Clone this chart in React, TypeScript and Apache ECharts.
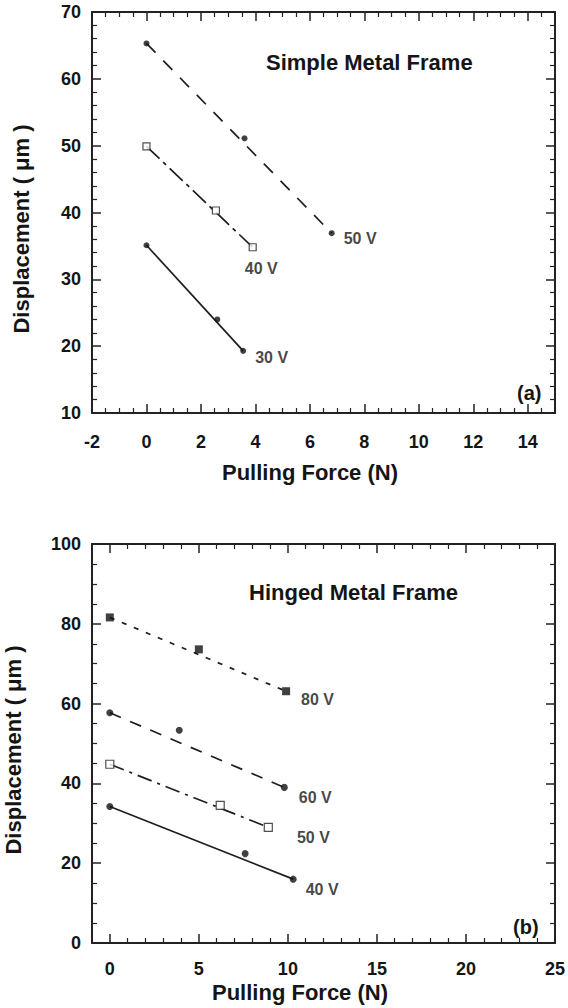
import React, { useEffect, useRef } from 'react';
import * as echarts from 'echarts';

const FONT = '"Liberation Sans", Arial, Helvetica, sans-serif';
const INK = '#151515';

// ---- Panel (a): Simple Metal Frame ----
const topXTicks = [-2, 0, 2, 4, 6, 8, 10, 12, 14];
const topYTicks = [10, 20, 30, 40, 50, 60, 70];
const topV50 = [[0, 65.3], [3.6, 51.1], [6.8, 36.9]];
const topV40 = [[0, 49.9], [2.55, 40.3], [3.9, 34.8]];
const topV30 = [[0, 35.1], [2.6, 24.0], [3.55, 19.3]];
const topLabels = ['50 V', '40 V', '30 V'];

// ---- Panel (b): Hinged Metal Frame ----
const botXTicks = [0, 5, 10, 15, 20, 25];
const botYTicks = [0, 20, 40, 60, 80, 100];
const botV80 = [[0, 81.6], [5.0, 73.6], [9.9, 63.1]];
const botV60 = [[0, 57.7], [3.9, 53.3], [9.8, 39.0]];
const botV50 = [[0, 44.8], [6.2, 34.5], [8.9, 29.0]];
const botV40 = [[0, 34.2], [7.6, 22.4], [10.3, 16.0]];
const botLabels = ['80 V', '60 V', '50 V', '40 V'];

const titleA = 'Simple Metal Frame';
const titleB = 'Hinged Metal Frame';
const xTitle = 'Pulling Force (N)';
const yTitle = 'Displacement ( \u03bcm )';

const axisLine = { show: true, onZero: false, lineStyle: { color: '#222', width: 2 } };
const tick = { show: true, inside: true, length: 9, lineStyle: { color: '#222', width: 1.5 } };
const minor = (n: number) => ({ show: true, splitNumber: n, length: 5, lineStyle: { color: '#222', width: 1.2 } });
const labelStyle = { fontFamily: FONT, fontWeight: 'bold' as const, fontSize: 18, color: INK };

function lineSeries(pts: number[][], grid: number, dash: number[] | 'solid') {
  const ends = [pts[0], pts[pts.length - 1]];
  return {
    type: 'line',
    xAxisIndex: grid * 2,
    yAxisIndex: grid * 2,
    data: ends,
    symbol: 'none',
    lineStyle: { color: '#1e1e1e', width: 1.7, type: dash },
    silent: true,
    z: 2,
  };
}

function pointSeries(
  pts: number[][],
  grid: number,
  symbol: string,
  size: number,
  filled: boolean,
  label: string,
  offset: number[],
) {
  return {
    type: 'scatter',
    xAxisIndex: grid * 2,
    yAxisIndex: grid * 2,
    symbol,
    symbolSize: size,
    itemStyle: filled
      ? { color: '#111' }
      : { color: '#fff', borderColor: '#222', borderWidth: 1.2 },
    data: pts.map((p, i) =>
      i === pts.length - 1
        ? {
            value: p,
            label: {
              show: true,
              formatter: label,
              position: 'right',
              distance: 0,
              offset,
              fontFamily: FONT,
              fontWeight: 'bold',
              fontSize: 16,
              color: INK,
            },
          }
        : p,
    ),
    z: 3,
  };
}

export default function App() {
  const ref = useRef<HTMLDivElement>(null);
  useEffect(() => {
    if (!ref.current) return;
    const chart = echarts.init(ref.current, undefined, { renderer: 'svg' });
    const option: any = {
      animation: false,
      backgroundColor: '#fff',
      grid: [
        { left: 92, top: 12, width: 463, height: 401 },
        { left: 92, top: 544, width: 463, height: 399 },
      ],
      xAxis: [
        {
          gridIndex: 0, type: 'value', position: 'bottom',
          min: topXTicks[0], max: 15, interval: 2,
          axisLine, axisTick: tick, minorTick: minor(4), splitLine: { show: false },
          axisLabel: { ...labelStyle, margin: 20, formatter: (v: number) => (topXTicks.includes(v) ? String(v) : '') },
        },
        {
          gridIndex: 0, type: 'value', position: 'top',
          min: topXTicks[0], max: 15, interval: 2,
          axisLine, axisTick: tick, minorTick: minor(4), splitLine: { show: false },
          axisLabel: { show: false },
        },
        {
          gridIndex: 1, type: 'value', position: 'bottom',
          min: -1, max: 25, minInterval: 5, maxInterval: 5, splitNumber: 5,
          axisLine, axisTick: tick, minorTick: minor(5), splitLine: { show: false },
          axisLabel: { ...labelStyle, margin: 17, formatter: (v: number) => (botXTicks.includes(v) ? String(v) : '') },
        },
        {
          gridIndex: 1, type: 'value', position: 'top',
          min: -1, max: 25, minInterval: 5, maxInterval: 5, splitNumber: 5,
          axisLine, axisTick: tick, minorTick: minor(5), splitLine: { show: false },
          axisLabel: { show: false },
        },
      ],
      yAxis: [
        {
          gridIndex: 0, type: 'value', position: 'left',
          min: topYTicks[0], max: topYTicks[topYTicks.length - 1], interval: 10,
          axisLine, axisTick: tick, minorTick: minor(5), splitLine: { show: false },
          axisLabel: { ...labelStyle, margin: 11 },
        },
        {
          gridIndex: 0, type: 'value', position: 'right',
          min: topYTicks[0], max: topYTicks[topYTicks.length - 1], interval: 10,
          axisLine, axisTick: tick, minorTick: minor(5), splitLine: { show: false },
          axisLabel: { show: false },
        },
        {
          gridIndex: 1, type: 'value', position: 'left',
          min: botYTicks[0], max: botYTicks[botYTicks.length - 1], interval: 20,
          axisLine, axisTick: tick, minorTick: minor(4), splitLine: { show: false },
          axisLabel: { ...labelStyle, margin: 11 },
        },
        {
          gridIndex: 1, type: 'value', position: 'right',
          min: botYTicks[0], max: botYTicks[botYTicks.length - 1], interval: 20,
          axisLine, axisTick: tick, minorTick: minor(4), splitLine: { show: false },
          axisLabel: { show: false },
        },
      ],
      series: [
        lineSeries(topV50, 0, [13, 11]),
        lineSeries(topV40, 0, [18, 5, 4, 5]),
        lineSeries(topV30, 0, 'solid'),
        pointSeries(topV50, 0, 'circle', 6, true, topLabels[0], [9, 5]),
        pointSeries(topV40, 0, 'rect', 7, false, topLabels[1], [-12, 21]),
        pointSeries(topV30, 0, 'circle', 6, true, topLabels[2], [9, 7]),
        lineSeries(botV80, 1, [5, 8]),
        lineSeries(botV60, 1, [12, 10]),
        lineSeries(botV50, 1, [15, 6, 3, 6]),
        lineSeries(botV40, 1, 'solid'),
        pointSeries(botV80, 1, 'rect', 8, true, botLabels[0], [11, 8]),
        pointSeries(botV60, 1, 'circle', 7, true, botLabels[1], [11, 10]),
        pointSeries(botV50, 1, 'rect', 8, false, botLabels[2], [24, 10]),
        pointSeries(botV40, 1, 'circle', 7, true, botLabels[3], [9, 10]),
      ],
      graphic: [
        { type: 'text', x: 266, y: 62, style: { text: titleA, font: `bold 22px ${FONT}`, fill: INK, verticalAlign: 'middle' } },
        { type: 'text', x: 517, y: 393, style: { text: '(a)', font: `bold 20px ${FONT}`, fill: INK, verticalAlign: 'middle' } },
        { type: 'text', x: 249, y: 592, style: { text: titleB, font: `bold 22px ${FONT}`, fill: INK, verticalAlign: 'middle' } },
        { type: 'text', x: 513, y: 927, style: { text: '(b)', font: `bold 20px ${FONT}`, fill: INK, verticalAlign: 'middle' } },
        { type: 'text', x: 310, y: 472, style: { text: xTitle, font: `bold 22px ${FONT}`, fill: INK, align: 'center', verticalAlign: 'middle' } },
        { type: 'text', x: 300, y: 992, style: { text: xTitle, font: `bold 22px ${FONT}`, fill: INK, align: 'center', verticalAlign: 'middle' } },
        { type: 'text', x: 21, y: 229, rotation: Math.PI / 2, style: { text: yTitle, font: `bold 22px ${FONT}`, fill: INK, align: 'center', verticalAlign: 'middle' } },
        { type: 'text', x: 13, y: 750, rotation: Math.PI / 2, style: { text: yTitle, font: `bold 22px ${FONT}`, fill: INK, align: 'center', verticalAlign: 'middle' } },
      ],
    };
    chart.setOption(option);
    return () => chart.dispose();
  }, []);
  return (
    <div
      ref={ref}
      style={{ position: 'absolute', left: 0, top: 0, width: 568, height: 1008, background: '#fff' }}
    />
  );
}
